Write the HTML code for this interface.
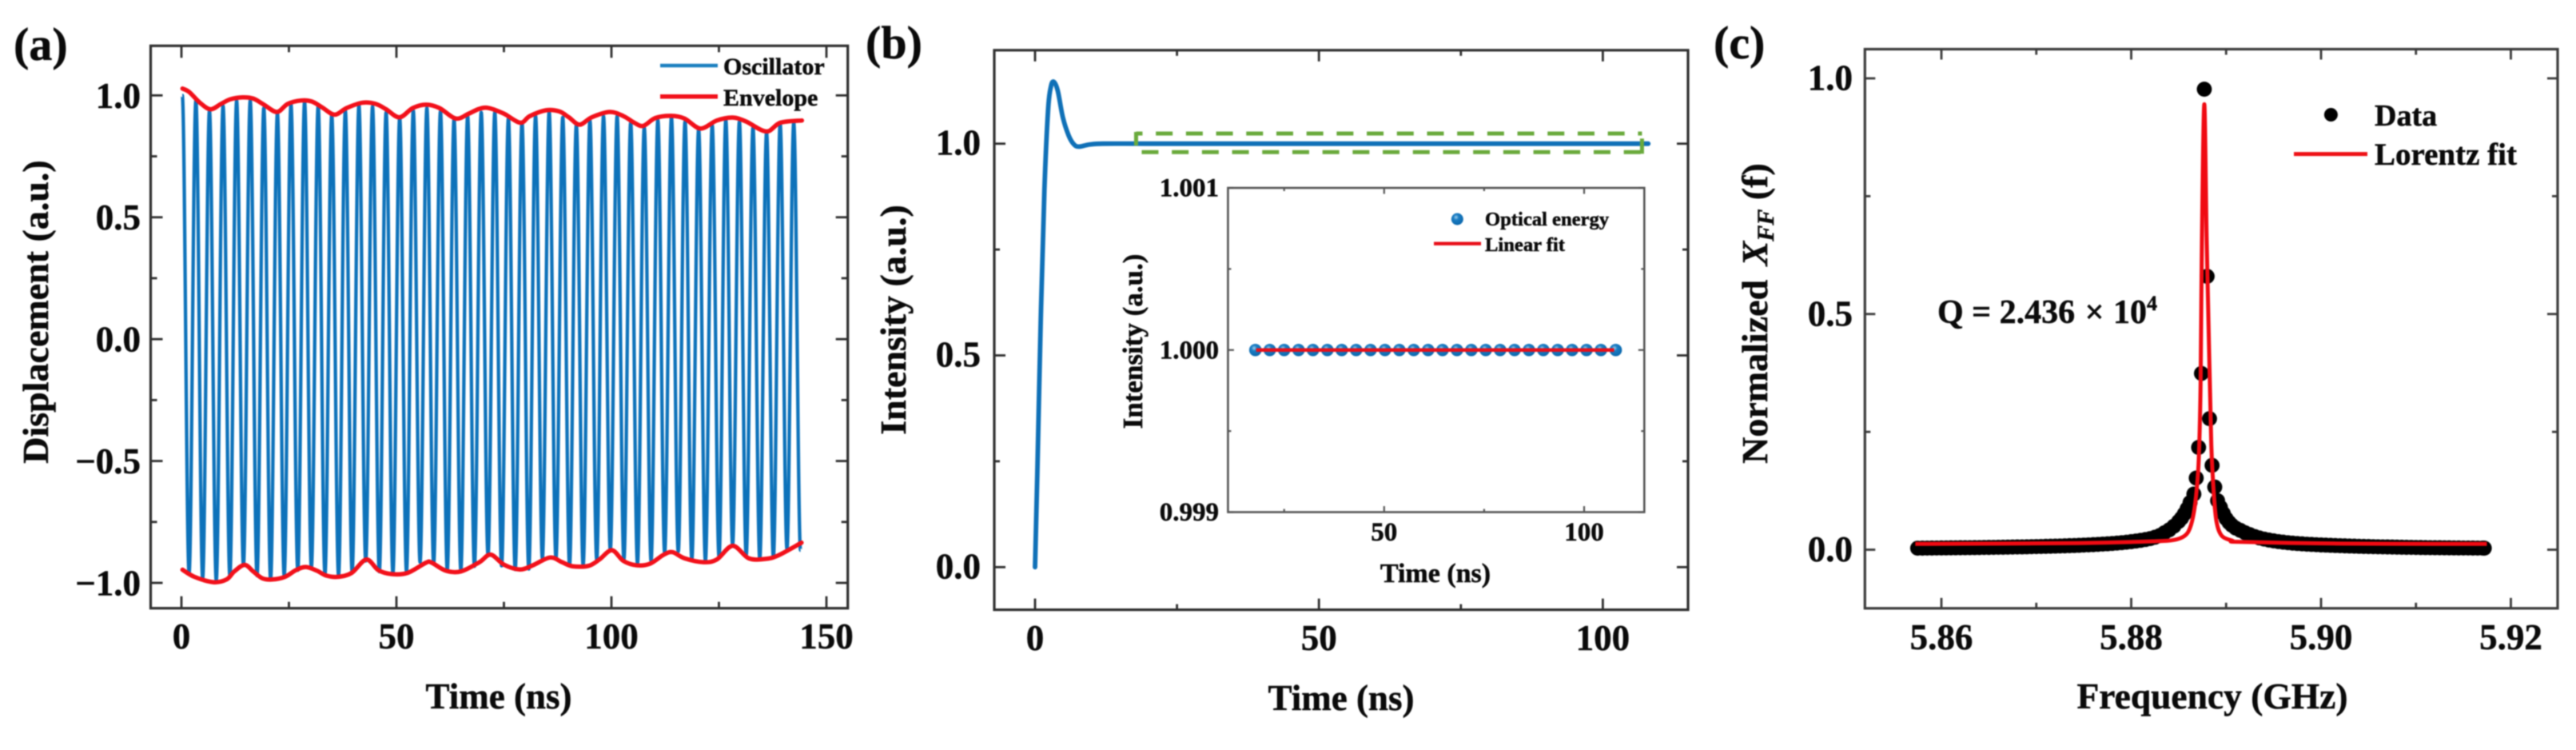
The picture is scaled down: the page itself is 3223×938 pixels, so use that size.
<!DOCTYPE html>
<html lang="en">
<head>
<meta charset="utf-8">
<title>Oscillator, intensity and resonance panels</title>
<style>
  html, body { margin: 0; padding: 0; background: #fff; width: 3223px; height: 938px; overflow: hidden; }
  svg { display: block; filter: blur(0.9px); }
  text { font-family: "Liberation Serif", serif; font-weight: bold; fill: #0a0a0a; stroke: #0a0a0a; stroke-width: 0.5px; }
</style>
</head>
<body>
<svg id="figure" xmlns="http://www.w3.org/2000/svg" width="3223" height="938" viewBox="0 0 3223 938">
  <defs>
    <radialGradient id="ball" cx="40%" cy="35%" r="65%">
      <stop offset="0" stop-color="#9fd0f0"/>
      <stop offset="0.35" stop-color="#1a7cc2"/>
      <stop offset="1" stop-color="#0c68ad"/>
    </radialGradient>
  </defs>
  <rect x="0" y="0" width="3223" height="938" fill="#fff"/>

  <g id="panel-a">
    <text x="17" y="75" font-size="58">(a)</text>
    <text x="624" y="886" font-size="45" text-anchor="middle">Time (ns)</text>
    <text x="60" y="390" font-size="46" text-anchor="middle" transform="rotate(-90 60 390)">Displacement (a.u.)</text>
    <g id="a-plot"></g>
    <line x1="826" y1="82" x2="898" y2="82" stroke="#1b7fc0" stroke-width="4.4"/>
    <text x="905" y="93" font-size="30">Oscillator</text>
    <line x1="826" y1="120.7" x2="898" y2="120.7" stroke="#f2101a" stroke-width="5.5"/>
    <text x="905" y="132" font-size="30">Envelope</text>
  </g>

  <g id="panel-b">
    <text x="1083" y="73" font-size="58">(b)</text>
    <text x="1678" y="888" font-size="45" text-anchor="middle">Time (ns)</text>
    <text x="1133" y="400" font-size="46" text-anchor="middle" transform="rotate(-90 1133 400)">Intensity (a.u.)</text>
    <g id="b-plot"></g>
    <g id="inset-plot"></g>
    <text x="1796" y="728" font-size="34" text-anchor="middle">Time (ns)</text>
    <text x="1429" y="427" font-size="35" text-anchor="middle" transform="rotate(-90 1429 427)">Intensity (a.u.)</text>
    <circle cx="1823.3" cy="274" r="7.5" fill="url(#ball)"/>
    <text x="1858" y="282" font-size="24.6">Optical energy</text>
    <line x1="1794" y1="304.7" x2="1853" y2="304.7" stroke="#e8101a" stroke-width="4.4"/>
    <text x="1858" y="314" font-size="24.6">Linear fit</text>
  </g>

  <g id="panel-c">
    <text x="2144" y="73" font-size="58">(c)</text>
    <text x="2768" y="886" font-size="45.5" text-anchor="middle">Frequency (GHz)</text>
    <text x="2211" y="392" font-size="46" text-anchor="middle" transform="rotate(-90 2211 392)">Normalized <tspan font-style="italic" dx="6">X</tspan><tspan font-style="italic" font-size="30" dy="8">FF</tspan><tspan dy="-8"> (f)</tspan></text>
    <g id="c-plot"></g>
    <circle cx="2916.4" cy="143.5" r="8.5" fill="#000"/>
    <text x="2971" y="157" font-size="38">Data</text>
    <line x1="2870" y1="192.6" x2="2962" y2="192.6" stroke="#ee1016" stroke-width="5"/>
    <text x="2971" y="206" font-size="39">Lorentz fit</text>
    <text x="2424" y="404" font-size="42">Q = 2.436 <tspan dx="2">×</tspan> <tspan dx="1">10</tspan><tspan font-size="26" dy="-16">4</tspan></text>
  </g>
</svg>

<script>
/* ---------- panel (a) data ---------- */
const aXTicks = [0, 50, 100, 150];
const aXMinor = [25, 75, 125];
const aYTicks = [-1, -0.5, 0, 0.5, 1];
const aYMinor = [-0.75, -0.25, 0.25, 0.75];
const aXLabels = ["0", "50", "100", "150"];
const aYLabels = ["\u22121.0", "\u22120.5", "0.0", "0.5", "1.0"];

const oscPeakTimes = [0.2,3.36,6.52,9.68,12.84,16,19.16,22.32,25.48,28.64,31.8,34.96,38.12,41.28,44.44,47.6,50.76,53.92,57.08,60.24,63.4,66.56,69.72,72.88,76.04,79.2,82.36,85.52,88.68,91.84,95,98.16,101.32,104.48,107.64,110.8,113.96,117.12,120.28,123.44,126.6,129.76,132.92,136.08,139.24,142.4];
const oscPeakValues = [1.0,.978,.937,.956,.978,.978,.948,.926,.962,.973,.956,.919,.937,.959,.954,.930,.908,.937,.948,.934,.901,.915,.930,.930,.905,.888,.915,.932,.910,.879,.897,.915,.915,.888,.868,.899,.910,.893,.861,.877,.899,.893,.868,.847,.883,.888];
const oscTroughTimes = [1.78,4.94,8.1,11.26,14.42,17.58,20.74,23.9,27.06,30.22,33.38,36.54,39.7,42.86,46.02,49.18,52.34,55.5,58.66,61.82,64.98,68.14,71.3,74.46,77.62,80.78,83.94,87.1,90.26,93.42,96.58,99.74,102.9,106.06,109.22,112.38,115.54,118.7,121.86,125.02,128.18,131.34,134.5,137.66,140.82,143.98];
const oscTroughValues = [-.959,-.981,-.990,-.970,-.928,-.970,-.986,-.970,-.948,-.937,-.965,-.970,-.954,-.910,-.954,-.961,-.954,-.915,-.921,-.948,-.948,-.932,-.885,-.930,-.945,-.943,-.899,-.899,-.928,-.928,-.904,-.866,-.904,-.921,-.910,-.877,-.872,-.904,-.910,-.893,-.844,-.888,-.902,-.895,-.861,-.866];

const envUpperTimes = [0.25,1.8,4.3,6.75,9.2,11.4,14.2,16.7,19.1,22.2,24.7,27.8,30.3,32.7,35.6,38.4,42.1,45.2,47.6,50.7,53.8,56.9,60,63.8,66.8,69.3,71.5,75,78.8,81,84.8,87.9,90.1,92.6,95.4,99.6,102.8,105.3,107.4,110.2,113.9,117,120.7,124.5,128.2,131.3,136,139.3,144.3];
const envUpperValues = [1.028,1.014,.97,.943,.965,.984,.992,.987,.963,.932,.965,.979,.975,.951,.921,.948,.970,.965,.943,.910,.948,.962,.948,.905,.925,.945,.948,.925,.888,.915,.939,.934,.910,.880,.910,.932,.915,.888,.875,.907,.916,.905,.864,.897,.909,.893,.852,.888,.897];
const envLowerTimes = [0.25,3,7.4,10.5,12.3,14.7,16.7,18.8,21,24.1,26.6,28.9,31.5,33.7,36.5,39.6,43,45.8,48.9,52.6,56.9,58.2,61.5,65,69.3,71.9,75,78.7,81.7,85.7,88.5,91,94.7,97.2,100.1,102.8,105.9,109,112.1,114.2,117,121.4,124.5,128.2,131.9,135.6,138.7,144.2];
const envLowerValues = [-.946,-.975,-.997,-.986,-.953,-.926,-.953,-.981,-.986,-.975,-.948,-.935,-.950,-.970,-.975,-.959,-.904,-.948,-.964,-.959,-.917,-.917,-.950,-.953,-.915,-.884,-.925,-.945,-.928,-.896,-.915,-.932,-.930,-.904,-.866,-.910,-.928,-.921,-.885,-.874,-.899,-.915,-.904,-.848,-.899,-.902,-.888,-.835];

/* ---------- panel (b) data ---------- */
const bXTicks = [0, 50, 100];
const bXMinor = [25, 75];
const bYTicks = [0, 0.5, 1];
const bYMinor = [0.25, 0.75];
const bXLabels = ["0", "50", "100"];
const bYLabels = ["0.0", "0.5", "1.0"];
const bTimes = [0,0.4,1,1.65,2.3,2.8,3.3,4,4.9,5.9,6.8,7.7,9.6,12,20,40,60,80,100,108];
const bValues = [0,0.22,0.58,0.89,1.08,1.135,1.146,1.125,1.062,1.02,0.999,0.993,0.998,1,1,1,1,1,1,1];
const boxTimes = [17.8, 106.9];
const boxValues = [0.98, 1.024];

const insetXTicks = [50, 100];
const insetXMinor = [25, 75];
const insetYTicks = [0.999, 1.000, 1.001];
const insetYMinor = [0.9995, 1.0005];
const insetXLabels = ["50", "100"];
const insetYLabels = ["0.999", "1.000", "1.001"];
const insetTimes = [17.8,21.4,25,28.6,32.2,35.8,39.4,43,46.6,50.2,53.8,57.4,61,64.6,68.2,71.8,75.4,79,82.6,86.2,89.8,93.4,97,100.6,104.2,107.9];
const insetValues = [1,1,1,1,1,1,1,1,1,1,1,1,1,1,1,1,1,1,1,1,1,1,1,1,1,1];
const insetFitTimes = [18, 107.5];
const insetFitValues = [1, 1];

/* ---------- panel (c) data ---------- */
const cXTicks = [5.86, 5.88, 5.90, 5.92];
const cXMinor = [5.87, 5.89, 5.91];
const cYTicks = [0, 0.5, 1];
const cYMinor = [0.25, 0.75];
const cXLabels = ["5.86", "5.88", "5.90", "5.92"];
const cYLabels = ["0.0", "0.5", "1.0"];
const cFreq = [
  5.8575,5.8580,5.8585,5.8590,5.8595,5.8600,5.8605,5.8610,5.8615,5.8620,
  5.8625,5.8630,5.8635,5.8640,5.8645,5.8650,5.8655,5.8660,5.8665,5.8670,
  5.8675,5.8680,5.8685,5.8690,5.8695,5.8700,5.8705,5.8710,5.8715,5.8720,
  5.8725,5.8730,5.8735,5.8740,5.8745,5.8750,5.8755,5.8760,5.8765,5.8770,
  5.8775,5.8780,5.8785,5.8790,5.8795,5.8800,5.8805,5.8810,5.8815,5.8820,
  5.8825,5.8830,5.8835,5.8840,5.8845,5.8850,5.8853,5.8856,5.8859,5.8862,
  5.8866,5.88685,5.8871,5.8874,5.8877,5.8880,5.88825,5.88852,5.8888,5.8891,
  5.8894,5.8897,5.8900,5.8903,5.8906,5.8910,5.8915,5.8920,5.8925,5.8930,
  5.8935,5.8940,5.8945,5.8950,5.8955,5.8960,5.8965,5.8970,5.8975,5.8980,
  5.8985,5.8990,5.8995,5.9000,5.9005,5.9010,5.9015,5.9020,5.9025,5.9030,
  5.9035,5.9040,5.9045,5.9050,5.9055,5.9060,5.9065,5.9070,5.9075,5.9080,
  5.9085,5.9090,5.9095,5.9100,5.9105,5.9110,5.9115,5.9120,5.9125,5.9130,
  5.9135,5.9140,5.9145,5.9150,5.9155,5.9160,5.9165,5.9170,5.9172];
const cData = [
  .0032,.0033,.0034,.0035,.0036,.0037,.0038,.0039,.0040,.0041,
  .0042,.0043,.0044,.0045,.0047,.0048,.0049,.0051,.0052,.0054,
  .0056,.0058,.0059,.0061,.0064,.0066,.0068,.0071,.0073,.0076,
  .0079,.0082,.0086,.0089,.0093,.0098,.0102,.0107,.0113,.0119,
  .0125,.0132,.0140,.0149,.0159,.0171,.0184,.0198,.0216,.0236,
  .0265,.0300,.0360,.0420,.0500,.0600,.067,.076,.087,.100,
  .118,.152,.217,.374,.977,.58,.278,.179,.133,.104,
  .090,.077,.066,.058,.052,.046,.0410,.0360,.0320,.0280,
  .0250,.0225,.0205,.0188,.0172,.0160,.0149,.0139,.0131,.0124,
  .0117,.0112,.0106,.0101,.0097,.0093,.0089,.0085,.0082,.0078,
  .0075,.0072,.0069,.0067,.0064,.0062,.0060,.0058,.0056,.0054,
  .0052,.0050,.0049,.0047,.0046,.0044,.0043,.0042,.0041,.0040,
  .0039,.0038,.0037,.0036,.0036,.0035,.0034,.0034,.0033];
const cFitFreq = [5.85725,5.86598,5.8744,5.88226,5.8845,5.88562,5.88619,5.88661,5.88689,5.88712,5.88731,5.88745,5.8877,5.88795,5.88821,5.88844,5.88872,5.889,5.88956,5.89068,5.89125,5.89966,5.90808,5.91747];
const cFitValues = [.0122,.013,.014,.0178,.0207,.0292,.046,.08,.126,.194,.351,.657,.945,.657,.419,.221,.114,.058,.029,.019,.0168,.0135,.0125,.0122];

/* ---------- helpers ---------- */
const NS = 'http://www.w3.org/2000/svg';
function make(tag, attrs, parent) {
  const el = document.createElementNS(NS, tag);
  for (const k in attrs) el.setAttribute(k, attrs[k]);
  parent.appendChild(el);
  return el;
}
function scale(d0, d1, r0, r1) {
  return v => r0 + (v - d0) * (r1 - r0) / (d1 - d0);
}
function smoothPath(xs, ys) {
  let d = 'M' + xs[0].toFixed(2) + ' ' + ys[0].toFixed(2);
  for (let i = 0; i < xs.length - 1; i++) {
    const p = i > 0 ? i - 1 : i, n = i + 2 < xs.length ? i + 2 : i + 1;
    const c1x = xs[i] + (xs[i + 1] - xs[p]) / 6, c1y = ys[i] + (ys[i + 1] - ys[p]) / 6;
    const c2x = xs[i + 1] - (xs[n] - xs[i]) / 6, c2y = ys[i + 1] - (ys[n] - ys[i]) / 6;
    d += 'C' + c1x.toFixed(2) + ' ' + c1y.toFixed(2) + ' ' + c2x.toFixed(2) + ' ' + c2y.toFixed(2) + ' ' + xs[i + 1].toFixed(2) + ' ' + ys[i + 1].toFixed(2);
  }
  return d;
}
function drawAxes(g, c) {
  const tick = (x1, y1, x2, y2, width, name) => {
    const t = make('line', {x1, y1, x2, y2, stroke: c.color, 'stroke-width': width}, g);
    
    
  };
  c.xTicks.forEach((v, i) => {
    const x = c.x(v);
    tick(x, c.bottom, x, c.bottom - c.major, c.tickW, 'x-major-tick');
    tick(x, c.top, x, c.top + c.major, c.tickW, 'x-major-tick-top');
    const t = make('text', {x, y: c.xLabelY, 'font-size': c.fs, 'text-anchor': 'middle'}, g);
    t.textContent = c.xLabels[i];
    
    
  });
  c.xMinor.forEach(v => {
    const x = c.x(v);
    tick(x, c.bottom, x, c.bottom - c.minor, c.tickW, 'x-minor-tick');
    tick(x, c.top, x, c.top + c.minor, c.tickW, 'x-minor-tick-top');
  });
  c.yTicks.forEach((v, i) => {
    const y = c.y(v);
    tick(c.left, y, c.left + c.major, y, c.tickW, 'y-major-tick');
    tick(c.right, y, c.right - c.major, y, c.tickW, 'y-major-tick-right');
    const t = make('text', {x: c.yLabelX, y: y + c.labelDy, 'font-size': c.fs, 'text-anchor': 'end'}, g);
    t.textContent = c.yLabels[i];
    
    
  });
  c.yMinor.forEach(v => {
    const y = c.y(v);
    tick(c.left, y, c.left + c.minor, y, c.tickW, 'y-minor-tick');
    tick(c.right, y, c.right - c.minor, y, c.tickW, 'y-minor-tick-right');
  });
  const f = make('rect', {x: c.left, y: c.top, width: c.right - c.left, height: c.bottom - c.top, fill: 'none', stroke: c.color, 'stroke-width': c.frameW}, g);
  
  
}

/* ---------- panel (a) ---------- */
(function () {
  const g = document.getElementById('a-plot');
  const x = scale(0, 150, 227, 1034), y = scale(-1, 1, 729, 119.3);
  drawAxes(g, {x, y, left: 188.5, right: 1060.7, top: 57.3, bottom: 760.7, major: 15, minor: 8, tickW: 2.8, frameW: 3.2, color: '#2e2e2e',
    xTicks: aXTicks, xMinor: aXMinor, yTicks: aYTicks, yMinor: aYMinor, xLabels: aXLabels, yLabels: aYLabels,
    fs: 45, xLabelY: 811, yLabelX: 176, labelDy: 15.5});
  let d = '';
  let px = null, py = null;
  oscPeakTimes.forEach((t, i) => {
    [[t, oscPeakValues[i]], [oscTroughTimes[i], oscTroughValues[i]]].forEach(pt => {
      const X = x(pt[0]), Y = y(pt[1]);
      if (px === null) {
        d += 'M' + X.toFixed(2) + ' ' + Y.toFixed(2);
      } else {
        const h = 0.3642 * (X - px);
        d += 'C' + (px + h).toFixed(2) + ' ' + py.toFixed(2) + ' ' + (X - h).toFixed(2) + ' ' + Y.toFixed(2) + ' ' + X.toFixed(2) + ' ' + Y.toFixed(2);
      }
      px = X; py = Y;
    });
  });
  const osc = make('path', {d, fill: 'none', stroke: '#0d72ba', 'stroke-width': 4.3, 'stroke-linejoin': 'round'}, g);
  
  
  const up = make('path', {d: smoothPath(envUpperTimes.map(x), envUpperValues.map(y)), fill: 'none', stroke: '#f2101a', 'stroke-width': 5.5, 'stroke-linecap': 'round'}, g);
  
  
  const lo = make('path', {d: smoothPath(envLowerTimes.map(x), envLowerValues.map(y)), fill: 'none', stroke: '#f2101a', 'stroke-width': 5.5, 'stroke-linecap': 'round'}, g);
  
  
})();

/* ---------- panel (b) ---------- */
(function () {
  const g = document.getElementById('b-plot');
  const x = scale(0, 100, 1295, 2005.4), y = scale(0, 1, 709.3, 179.7);
  drawAxes(g, {x, y, left: 1244, right: 2112, top: 62.8, bottom: 762.6, major: 14, minor: 7, tickW: 2.8, frameW: 3.2, color: '#2e2e2e',
    xTicks: bXTicks, xMinor: bXMinor, yTicks: bYTicks, yMinor: bYMinor, xLabels: bXLabels, yLabels: bYLabels,
    fs: 45, xLabelY: 813, yLabelX: 1227, labelDy: 14});
  const line = make('path', {d: smoothPath(bTimes.map(x), bValues.map(y)), fill: 'none', stroke: '#0f70b7', 'stroke-width': 5.8, 'stroke-linecap': 'round'}, g);
  
  

  const bx0 = x(boxTimes[0]), bx1 = x(boxTimes[1]), by0 = y(boxValues[1]), by1 = y(boxValues[0]);
  const boxStyle = {stroke: '#6aaa3c', 'stroke-width': 5, fill: 'none'};
  const top = make('line', Object.assign({x1: bx0, y1: by0, x2: bx1, y2: by0, 'stroke-dasharray': '21 16.7', 'stroke-dashoffset': 13}, boxStyle), g);
  
  
  const bot = make('line', Object.assign({x1: bx0, y1: by1, x2: bx1, y2: by1, 'stroke-dasharray': '21 16.7', 'stroke-dashoffset': 30.7}, boxStyle), g);
  
  
  const lft = make('line', Object.assign({x1: bx0, y1: by0 - 2, x2: bx0, y2: by0 + 15}, boxStyle), g);
  
  
  const rgt = make('line', Object.assign({x1: bx1, y1: by1 - 17, x2: bx1, y2: by1 + 2}, boxStyle), g);
  
  

  /* inset */
  const gi = document.getElementById('inset-plot');
  const ix = scale(50, 100, 1731.8, 1982), iy = scale(0.999, 1.001, 640.5, 235);
  drawAxes(gi, {x: ix, y: iy, left: 1536.4, right: 2057.3, top: 235, bottom: 640.5, major: 7.5, minor: 4, tickW: 2.2, frameW: 2.6, color: '#555',
    xTicks: insetXTicks, xMinor: insetXMinor, yTicks: insetYTicks, yMinor: insetYMinor, xLabels: insetXLabels, yLabels: insetYLabels,
    fs: 33, xLabelY: 676, yLabelX: 1525, labelDy: 10.5});
  insetTimes.forEach((t, i) => {
    const c = make('circle', {cx: ix(t), cy: iy(insetValues[i]), r: 7.8, fill: 'url(#ball)'}, gi);
    
    
  });
  const fit = make('line', {x1: ix(insetFitTimes[0]), y1: iy(insetFitValues[0]), x2: ix(insetFitTimes[1]), y2: iy(insetFitValues[1]), stroke: '#e8101a', 'stroke-width': 4.4}, gi);
  
  
})();

/* ---------- panel (c) ---------- */
(function () {
  const g = document.getElementById('c-plot');
  const x = scale(5.86, 5.92, 2429, 3141.5), y = scale(0, 1, 687.5, 98);
  drawAxes(g, {x, y, left: 2333.3, right: 3200, top: 61.5, bottom: 760.8, major: 13, minor: 7, tickW: 2.8, frameW: 3.2, color: '#3a3a3a',
    xTicks: cXTicks, xMinor: cXMinor, yTicks: cYTicks, yMinor: cYMinor, xLabels: cXLabels, yLabels: cYLabels,
    fs: 45, xLabelY: 812, yLabelX: 2318, labelDy: 14.5});
  cFreq.forEach((f, i) => {
    const c = make('circle', {cx: x(f), cy: y(cData[i]), r: 9.4, fill: '#000'}, g);
    
    
  });
  const fit = make('path', {d: smoothPath(cFitFreq.map(x), cFitValues.map(y)), fill: 'none', stroke: '#f00a12', 'stroke-width': 5, 'stroke-linejoin': 'round', 'stroke-linecap': 'butt'}, g);
  
  
})();
</script>
</body>
</html>
